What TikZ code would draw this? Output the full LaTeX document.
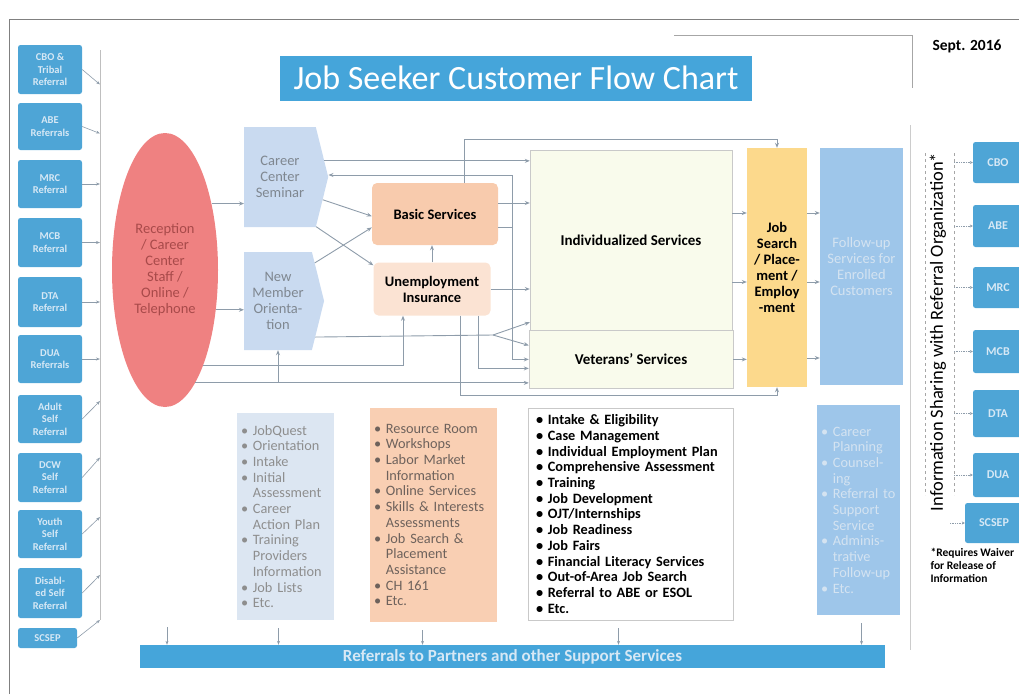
\documentclass[tikz,border=0pt]{standalone}
\usepackage{fontspec}
\setmainfont{Carlito}
\usetikzlibrary{
  arrows.meta, % small arrow heads
  positioning,
  shapes.geometric, % ellipse
  shapes.symbols, % signal
}

\definecolor{srcblue}{HTML}{4EA5D6}
\definecolor{srctext}{HTML}{D6E8F5}
\definecolor{recpink}{HTML}{EF8181}
\definecolor{rectext}{HTML}{A84A4A}
\definecolor{semblue}{HTML}{C9DAF0}
\definecolor{semtext}{HTML}{7F8790}
\definecolor{basicpeach}{HTML}{F8CBAD}
\definecolor{uipeach}{HTML}{FBE3D3}
\definecolor{indivfill}{HTML}{F9FBEC}
\definecolor{boxedge}{HTML}{C9C9C9}
\definecolor{jobsgold}{HTML}{FCD98C}
\definecolor{followblue}{HTML}{9EC6EA}
\definecolor{followtext}{HTML}{D4E3F1}
\definecolor{titleblue}{HTML}{45A5DA}
\definecolor{listblue}{HTML}{DCE6F2}
\definecolor{listgray}{HTML}{8E8E8E}
\definecolor{listpeach}{HTML}{F9CFB3}
\definecolor{peachtext}{HTML}{6E625C}
\definecolor{linegray}{HTML}{8E9CAA}

\newcommand{\bulpad}{\hphantom{\textbullet\ }}

\tikzset{
  srcbox/.style={fill=srcblue, rounded corners=2.5pt, minimum width=64pt,
    inner sep=1pt, align=center, text=srctext,
    font=\fontsize{10.5}{12.5}\selectfont\bfseries},
  partbox/.style={srcbox, minimum width=50pt, font=\fontsize{12}{14}\selectfont\bfseries},
  entrybox/.style={signal, signal to=east, signal pointer angle=152,
    fill=semblue, inner sep=0pt, align=center, text=semtext,
    font=\fontsize{14.5}{16}\selectfont},
  svcbox/.style={rounded corners=5pt, inner sep=1pt, align=center,
    font=\fontsize{14.5}{16}\selectfont\bfseries},
  listbox/.style={inner xsep=4pt, inner ysep=2pt, align=left,
    font=\fontsize{14.3}{15.7}\selectfont},
  flow/.style={draw=linegray, line width=0.9pt, -{Stealth[length=5pt,width=4pt]}},
  feed/.style={draw=linegray, line width=0.6pt, -{Stealth[length=4pt,width=3pt]}},
  share/.style={draw=linegray, line width=0.7pt, densely dotted, -{Stealth[length=3pt,width=3pt]}},
}

\begin{document}
\begin{tikzpicture}[x=1pt, y=-1pt]
\useasboundingbox (0,0) rectangle (1019,694);

% page frame
\draw[gray, line width=0.8pt] (9,694) -- (9,19) -- (1019,19);
\draw[gray!70, line width=0.6pt] (674,35) -- (912,35) -- (912,88);
\draw[gray!40, line width=0.6pt] (910,125) -- (910,650);

\node[fill=titleblue, text=white, minimum width=472pt, minimum height=45pt,
  font=\fontsize{34}{38}\selectfont] (title) at (516,78) {Job Seeker Customer Flow Chart};
\node[font=\fontsize{15.5}{18}\selectfont\bfseries] (date) at (967,46) {Sept. 2016};

% referral sources
\node[srcbox, minimum height=49pt] (cbo) at (50,69.5) {CBO \&\\Tribal\\Referral};
\node[srcbox, minimum height=47pt] (abe) at (50,126.5) {ABE\\Referrals};
\node[srcbox, minimum height=48pt] (mrc) at (50,184) {MRC\\Referral};
\node[srcbox, minimum height=49pt] (mcb) at (50,242.5) {MCB\\Referral};
\node[srcbox, minimum height=50pt] (dta) at (50,302) {DTA\\Referral};
\node[srcbox, minimum height=48pt] (dua) at (50,359) {DUA\\Referrals};
\node[srcbox, minimum height=48pt] (adult) at (50,419) {Adult\\Self\\Referral};
\node[srcbox, minimum height=49pt] (dcw) at (50,477.5) {DCW\\Self\\Referral};
\node[srcbox, minimum height=48pt] (youth) at (50,534) {Youth\\Self\\Referral};
\node[srcbox, minimum height=50pt] (disab) at (50,593) {Disabl-\\ed Self\\Referral};
\node[srcbox, minimum height=20pt, minimum width=59pt] (scsep) at (47.5,638) {SCSEP};

\coordinate (railtop) at (100,50);
\coordinate (railbot) at (100,620);
\draw[gray!50, line width=0.6pt] (railtop) -- (railbot);
\draw[feed] (cbo.east) -- ([yshift=-15pt]cbo.east -| railtop);
\draw[feed] (abe.east) -- ([yshift=-7pt]abe.east -| railtop);
\draw[feed] (mrc.east) -- (mrc.east -| railtop);
\draw[feed] (mcb.east) -- (mcb.east -| railtop);
\draw[feed] (dta.east) -- (dta.east -| railtop);
\draw[feed] (dua.east) -- (dua.east -| railtop);
\draw[feed] (adult.east) -- ([yshift=18pt]adult.east -| railtop);
\draw[feed] (dcw.east) -- ([yshift=20pt]dcw.east -| railtop);
\draw[feed] (youth.east) -- ([yshift=17pt]youth.east -| railtop);
\draw[feed] (disab.east) -- ([yshift=18pt]disab.east -| railtop);
\draw[feed] (scsep.east) -- ([yshift=18pt]scsep.east -| railtop);

% entry points
\node[ellipse, fill=recpink, minimum width=106pt, minimum height=274pt, inner sep=0pt,
  align=center, text=rectext, font=\fontsize{14.5}{16}\selectfont] (recep) at (165,270)
  {Reception\\/ Career\\Center\\Staff /\\Online /\\Telephone};
\node[entrybox, minimum width=84pt, minimum height=100pt] (seminar) at (280,177)
  {Career\\Center\\Seminar};
\node[entrybox, minimum width=80pt, minimum height=98pt] (nmo) at (278,301)
  {New\\Member\\Orienta-\\tion};

% services
\node[svcbox, fill=basicpeach, minimum width=126pt, minimum height=62pt] (basic) at (435,214)
  {Basic Services};
\node[svcbox, fill=uipeach, minimum width=117pt, minimum height=53pt] (ui) at (432,289)
  {Unemployment\\Insurance};
\node[svcbox, rounded corners=0pt, fill=indivfill, draw=boxedge, minimum width=202pt,
  minimum height=180pt, font=\fontsize{15}{16}\selectfont\bfseries] (indiv) at (631,240)
  {Individualized Services};
\node[svcbox, rounded corners=0pt, fill=indivfill, draw=boxedge, minimum width=204pt,
  minimum height=58pt, below=0pt of indiv, font=\fontsize{15}{16}\selectfont\bfseries] (vets)
  {Veterans' Services};
\node[svcbox, rounded corners=0pt, fill=jobsgold, minimum width=60pt, minimum height=239pt,
  font=\fontsize{14.5}{16}\selectfont\bfseries] (jobs) at (777,267.5)
  {Job\\Search\\/ Place-\\ment /\\Employ\\-ment};
\node[svcbox, rounded corners=0pt, fill=followblue, text=followtext, minimum width=83pt,
  minimum height=237pt, font=\fontsize{14.5}{16}\selectfont] (follow) at (861.5,266.5)
  {Follow-up\\Services for\\Enrolled\\Customers};

% connectors
\draw[flow] (recep.55) -- (recep.55 -| seminar.west);
\draw[flow] (recep.-38) -- (recep.-38 -| nmo.west);
\draw[flow] (seminar.-28) -- (basic.182);
\draw[flow] (seminar.-54) -- (ui.158);
\draw[flow] (nmo.46) -- (basic.192);
\draw[flow] (ui.north) -- (ui.north |- basic.south);
\draw[flow] (seminar.20) -- (seminar.20 -| indiv.west);
\coordinate (jn) at (512,175);
\draw[flow] ([yshift=-13pt]basic.east) -| (jn) -- (jn -| seminar.east);
\draw[flow] ([yshift=-13pt]basic.east) -| (jn |- vets.west) -- (vets.west);
\draw[flow] ([xshift=29pt]basic.north) |- ([yshift=8pt]jobs.north) -- (jobs.north);
\draw[flow] ([yshift=11pt]basic.east) -- ([yshift=11pt]basic.east -| indiv.west);
\draw[flow] (ui.east) -- (ui.east -| indiv.west);
\coordinate (fork) at (493,335);
\draw[draw=linegray, line width=0.9pt] (nmo.-44) -- (fork);
\draw[flow] (fork) -- ([yshift=8pt]indiv.south west);
\draw[flow] (fork) -- ([yshift=14pt]vets.west);
\draw[flow] (recep.-68) -| ([xshift=-29pt]ui.south);
\draw[flow] (recep.-75) -- (recep.-75 -| vets.west);
\draw[flow] (nmo.south |- recep.-75) -- (nmo.south);
\draw[flow] ([xshift=46pt]ui.south) |- ([yshift=-9pt]vets.west);
\draw[flow] ([xshift=28pt]ui.south) |- ([yshift=-8pt]jobs.south) -- (jobs.south);
\draw[flow] ([yshift=27pt]indiv.east) -- ([yshift=27pt]indiv.east -| jobs.west);
\draw[flow] ([yshift=-42pt]indiv.east) -- ([yshift=-42pt]indiv.east -| jobs.west);
\draw[flow] (vets.east) -- (vets.east -| jobs.west);
\draw[flow] ([yshift=54.5pt]jobs.east) -- ([yshift=54.5pt]jobs.east -| follow.west);
\draw[flow] ([yshift=-14.5pt]jobs.east) -- ([yshift=-14.5pt]jobs.east -| follow.west);
\draw[flow] ([yshift=-90.5pt]jobs.east) -- ([yshift=-90.5pt]jobs.east -| follow.west);

% service lists
\node[listbox, fill=listblue, text=listgray, text width=89pt, minimum height=207pt]
  (seminarlist) at (285.5,516.5)
  {\textbullet\ JobQuest\\\textbullet\ Orientation\\\textbullet\ Intake\\\textbullet\ Initial\\
   \bulpad Assessment\\\textbullet\ Career\\\bulpad Action Plan\\\textbullet\ Training\\
   \bulpad Providers\\\bulpad Information\\\textbullet\ Job Lists\\\textbullet\ Etc.};
\node[listbox, fill=listpeach, text=peachtext, text width=119pt, minimum height=214pt]
  (basiclist) at (433.5,515)
  {\textbullet\ Resource Room\\\textbullet\ Workshops\\\textbullet\ Labor Market\\
   \bulpad Information\\\textbullet\ Online Services\\\textbullet\ Skills \& Interests\\
   \bulpad Assessments\\\textbullet\ Job Search \&\\\bulpad Placement\\\bulpad Assistance\\
   \textbullet\ CH 161\\\textbullet\ Etc.};
\node[listbox, fill=white, draw=boxedge, inner xsep=8pt, text width=189pt, minimum height=212pt,
  font=\fontsize{14.3}{15.7}\selectfont\bfseries] (indivlist) at (630.5,514)
  {\textbullet\ Intake \& Eligibility\\\textbullet\ Case Management\\
   \textbullet\ Individual Employment Plan\\\textbullet\ Comprehensive Assessment\\
   \textbullet\ Training\\\textbullet\ Job Development\\\textbullet\ OJT/Internships\\
   \textbullet\ Job Readiness\\\textbullet\ Job Fairs\\\textbullet\ Financial Literacy Services\\
   \textbullet\ Out-of-Area Job Search\\\textbullet\ Referral to ABE or ESOL\\\textbullet\ Etc.};
\node[listbox, fill=followblue, text=followtext, text width=75pt, minimum height=210pt]
  (followlist) at (858.5,510)
  {\textbullet\ Career\\\bulpad Planning\\\textbullet\ Counsel-\\\bulpad ing\\
   \textbullet\ Referral to\\\bulpad Support\\\bulpad Service\\\textbullet\ Adminis-\\
   \bulpad trative\\\bulpad Follow-up\\\textbullet\ Etc.};

\node[fill=titleblue, text=srctext, minimum width=745pt, minimum height=23pt, inner sep=0pt,
  font=\fontsize{17}{18}\selectfont\bfseries] (bar) at (512.5,656.5)
  {Referrals to Partners and other Support Services};
\coordinate (stub) at (167,627);
\draw[feed] (stub) -- (stub |- bar.north);
\draw[feed, shorten <=8pt] ([xshift=-7pt]seminarlist.south) -- ([xshift=-7pt]seminarlist.south |- bar.north);
\draw[feed, shorten <=8pt] ([xshift=-11pt]basiclist.south) -- ([xshift=-11pt]basiclist.south |- bar.north);
\draw[feed, shorten <=8pt] ([xshift=-12pt]indivlist.south) -- ([xshift=-12pt]indivlist.south |- bar.north);
\draw[feed, shorten <=8pt] ([xshift=3pt]followlist.south) -- ([xshift=3pt]followlist.south |- bar.north);

% information sharing partners
\node[rotate=90, font=\fontsize{18.5}{20}\selectfont] (infoshare) at (938,332)
  {Information Sharing with Referral Organization*};
\coordinate (dashL) at (925,153);
\coordinate (dashR) at (954,153);
\draw[gray!70, dashed, line width=0.8pt] (dashL) -- ++(0,342);
\draw[gray!70, dashed, line width=0.8pt] (dashR) -- ++(0,342);
\node[partbox, minimum height=41pt] (cbo2) at (998,162.5) {CBO};
\node[partbox, minimum height=42pt] (abe2) at (998,226) {ABE};
\node[partbox, minimum height=41pt] (mrc2) at (998,287.5) {MRC};
\node[partbox, minimum height=43pt] (mcb2) at (998,351.5) {MCB};
\node[partbox, minimum height=47pt] (dta2) at (998,413.5) {DTA};
\node[partbox, minimum height=44pt] (dua2) at (998,475) {DUA};
\node[partbox, minimum height=40pt, minimum width=58pt] (scsep2) at (994,523) {SCSEP};
\draw[share] (cbo2.west -| dashR) -- (cbo2.west);
\draw[share] (abe2.west -| dashR) -- (abe2.west);
\draw[share] (mrc2.west -| dashR) -- (mrc2.west);
\draw[share] (mcb2.west -| dashR) -- (mcb2.west);
\draw[share] (dta2.west -| dashR) -- (dta2.west);
\draw[share] (dua2.west -| dashR) -- (dua2.west);
\draw[share] ([xshift=-4pt]scsep2.west -| dashR) -- (scsep2.west);
\node[anchor=north west, align=left, font=\fontsize{11.5}{13}\selectfont\bfseries] (waiver)
  at (927,545) {*Requires Waiver\\for Release of\\Information};
\end{tikzpicture}
\end{document}
